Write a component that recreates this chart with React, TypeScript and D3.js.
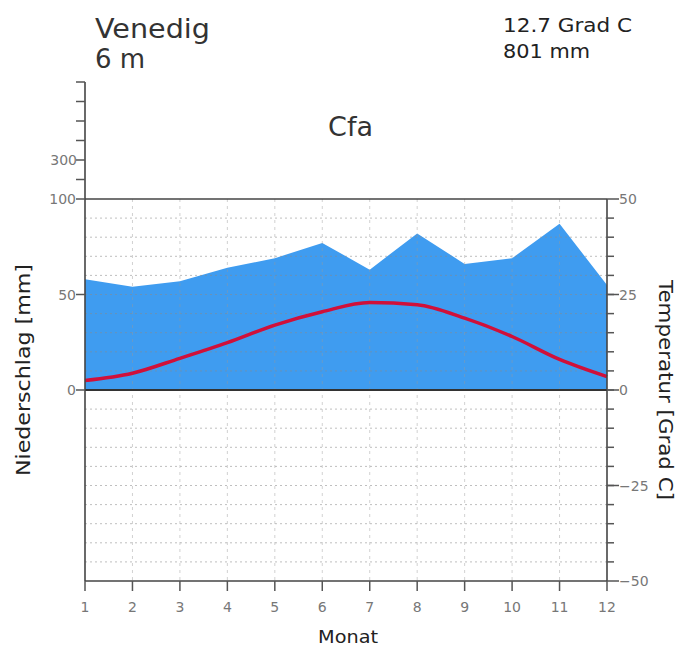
import React from "react";
import * as d3 from "d3";

// Klimadiagramm Venedig
const months = [1, 2, 3, 4, 5, 6, 7, 8, 9, 10, 11, 12];
const precip = [58, 54, 57, 64, 69, 77, 63, 82, 66, 69, 87, 55];
const temp = [2.5, 4.4, 8.3, 12.4, 17.0, 20.5, 22.9, 22.3, 18.8, 14.0, 8.0, 3.5];
const tempTicks = [50, 25, 0, -25, -50];
const precipTicks = [100, 50, 0];
const highTicks = [200, 300, 400, 500, 600, 700];
const highLabels = [300];

const font = "'DejaVu Sans', sans-serif";

const App = () => {
  const width = 681;
  const height = 648;
  const left = 85;
  const right = 607;
  const top = 199;
  const bottom = 581;

  const x = d3.scaleLinear().domain([1, 12]).range([left, right]);
  const yT = d3.scaleLinear().domain([-50, 50]).range([bottom, top]);
  const yP = d3.scaleLinear().domain([-100, 100]).range([bottom, top]);
  const yHigh = d3.scaleLinear().domain([100, 700]).range([top, 82]);

  const area = d3
    .area<number>()
    .x((d, i) => x(months[i]))
    .y0(yP(0))
    .y1((d) => yP(d));

  const line = d3
    .line<number>()
    .x((d, i) => x(months[i]))
    .y((d) => yT(d))
    .curve(d3.curveMonotoneX);

  const gridT = d3.range(-45, 50, 5).filter((v) => v !== 0);
  const minorT = d3.range(-45, 50, 5);

  return (
    <svg
      width={width}
      height={height}
      style={{ position: "absolute", left: 0, top: 0, background: "#fff" }}
      fontFamily={font}
    >
      {/* Niederschlag */}
      <path d={area(precip) || ""} fill="#3f9cf0" />

      {/* Gitter */}
      <g>
        {gridT.map((v) => (
          <line
            key={"h" + v}
            x1={left}
            x2={right}
            y1={yT(v)}
            y2={yT(v)}
            stroke="#8a8a8a"
            strokeOpacity={0.55}
            strokeDasharray="2,3"
          />
        ))}
        {months.slice(1, -1).map((m) => (
          <line
            key={"v" + m}
            x1={x(m)}
            x2={x(m)}
            y1={top}
            y2={bottom}
            stroke="#9a9a9a"
            strokeOpacity={0.45}
            strokeDasharray="3,4"
          />
        ))}
      </g>

      {/* Temperatur */}
      <path d={line(temp) || ""} fill="none" stroke="#d0103a" strokeWidth={3.5} />

      {/* Rahmen */}
      <g stroke="#444" strokeWidth={1.6}>
        <line x1={left} x2={right} y1={top} y2={top} />
        <line x1={left} x2={right} y1={yT(0)} y2={yT(0)} stroke="#333" strokeWidth={2} />
        <line x1={left} x2={right} y1={bottom} y2={bottom} />
        <line x1={left} x2={left} y1={yHigh(700)} y2={bottom} />
        <line x1={right} x2={right} y1={top} y2={bottom} />
      </g>

      {/* linke Achse */}
      <g stroke="#555" strokeWidth={1.5}>
        {precipTicks.map((v) => (
          <line key={v} x1={left - 9} x2={left} y1={yP(v)} y2={yP(v)} />
        ))}
        {highTicks.map((v) => (
          <line key={v} x1={left - 9} x2={left} y1={yHigh(v)} y2={yHigh(v)} />
        ))}
      </g>
      <g fill="#777" fontSize={14} textAnchor="end" dominantBaseline="central">
        {precipTicks.map((v) => (
          <text key={v} x={left - 9} y={yP(v)}>
            {v}
          </text>
        ))}
        {highLabels.map((v) => (
          <text key={v} x={left - 8} y={yHigh(v)}>
            {v}
          </text>
        ))}
      </g>

      {/* rechte Achse */}
      <g stroke="#555" strokeWidth={1.5}>
        {minorT.map((v) => (
          <line key={v} x1={right} x2={right + 7} y1={yT(v)} y2={yT(v)} />
        ))}
        {tempTicks.map((v) => (
          <line key={"m" + v} x1={right} x2={right + 12} y1={yT(v)} y2={yT(v)} />
        ))}
      </g>
      <g fill="#777" fontSize={14} dominantBaseline="central">
        {tempTicks.map((v) => (
          <text key={v} x={right + 12} y={yT(v)}>
            {v < 0 ? "\u2212" + Math.abs(v) : v}
          </text>
        ))}
      </g>

      {/* untere Achse */}
      <g stroke="#555" strokeWidth={1.5}>
        {months.map((m) => (
          <line key={m} x1={x(m)} x2={x(m)} y1={bottom} y2={bottom + 10} />
        ))}
      </g>
      <g fill="#777" fontSize={14} textAnchor="middle">
        {months.map((m) => (
          <text key={m} x={x(m)} y={bottom + 31}>
            {m}
          </text>
        ))}
      </g>

      {/* Beschriftung */}
      <text x={318} y={643} fontSize={18} fill="#222" textLength={60} lengthAdjust="spacingAndGlyphs">
        Monat
      </text>
      <text
        transform={`translate(30,${370}) rotate(-90)`}
        textAnchor="middle"
        fontSize={19}
        fill="#222"
        textLength={212}
        lengthAdjust="spacingAndGlyphs"
      >
        Niederschlag [mm]
      </text>
      <text
        transform={`translate(659,${390}) rotate(90)`}
        textAnchor="middle"
        fontSize={19}
        fill="#222"
        textLength={220}
        lengthAdjust="spacingAndGlyphs"
      >
        Temperatur [Grad C]
      </text>

      <text x={95} y={38} fontSize={26} fill="#333" textLength={115} lengthAdjust="spacingAndGlyphs">
        Venedig
      </text>
      <text x={95} y={68} fontSize={26} fill="#333">
        6  m
      </text>
      <text x={328} y={136} fontSize={27} fill="#333" textLength={45} lengthAdjust="spacingAndGlyphs">
        Cfa
      </text>
      <text x={503} y={32} fontSize={19} fill="#222" textLength={129} lengthAdjust="spacingAndGlyphs">
        12.7 Grad C
      </text>
      <text x={503} y={58} fontSize={19} fill="#222" textLength={87} lengthAdjust="spacingAndGlyphs">
        801 mm
      </text>
    </svg>
  );
};

export default App;
